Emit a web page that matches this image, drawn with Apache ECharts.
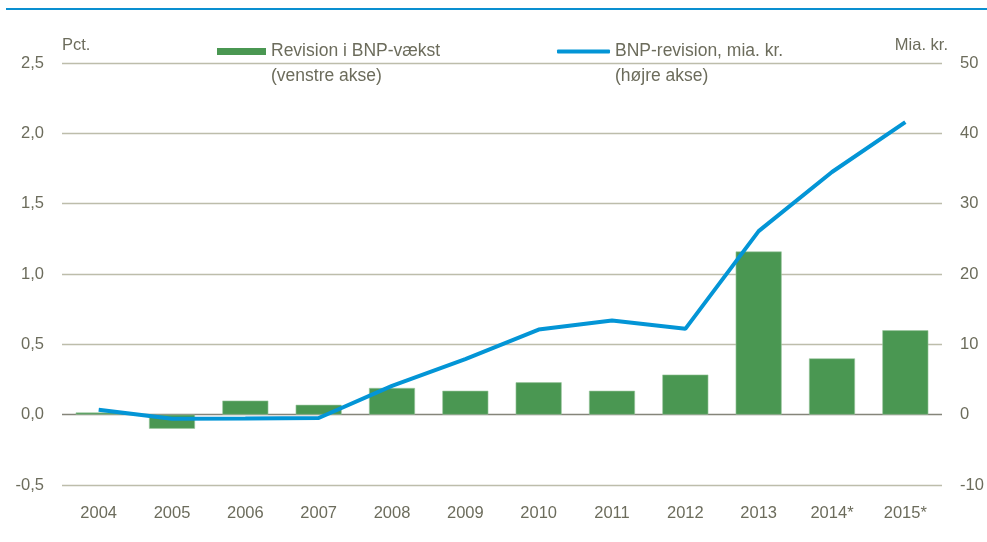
<!DOCTYPE html>
<html>
<head>
<meta charset="utf-8">
<script src="https://cdn.jsdelivr.net/npm/echarts@6/dist/echarts.min.js"></script>
<style>
html,body{margin:0;padding:0;background:#fff;}
#c{width:987px;height:542px;}
</style>
</head>
<body>
<div id="c"></div>
<script>
var categories = ['2004','2005','2006','2007','2008','2009','2010','2011','2012','2013','2014*','2015*'];
var growthRevision = [0.015,-0.10,0.10,0.07,0.19,0.17,0.23,0.17,0.285,1.16,0.40,0.60];
var bnpRevision = [0.7,-0.57,-0.55,-0.47,4.1,7.9,12.1,13.4,12.2,26.1,34.5,41.6];
var leftTicks = {min:-0.5, max:2.5, interval:0.5};
var rightTicks = {min:-10, max:50, interval:10};
var barName = 'Revision i BNP-vækst\n(venstre akse)';
var lineName = 'BNP-revision, mia. kr.\n(højre akse)';

var FONT = '"Liberation Sans Narrow", "Arial Narrow", "Liberation Sans", Arial, sans-serif';
var TXT = '#6c6c5c';
var chart = echarts.init(document.getElementById('c'));
var legendText = {fontFamily: FONT, fontSize: 17.5, color: TXT, lineHeight: 25};
function legendFmt(n){ return ' \n' + n; }
chart.setOption({
  animation: false,
  textStyle: {fontFamily: FONT},
  grid: {left: 62, right: 45, top: 63, bottom: 57},
  legend: [
    {data: [{name: barName, icon: 'rect', itemStyle: {borderWidth: 0}}], left: 217, top: 14, padding: 0, itemWidth: 49, itemHeight: 7,
     itemGap: 0, textStyle: legendText, formatter: legendFmt, selectedMode: false},
    {data: [{name: lineName, icon: 'roundRect'}], left: 557, top: 14, padding: 0, itemWidth: 53, itemHeight: 4,
     itemGap: 0, textStyle: legendText, formatter: legendFmt, selectedMode: false}
  ],
  graphic: [
    {type: 'rect', shape: {x: 6, y: 8, width: 981, height: 2}, style: {fill: '#0a8fd0'}, silent: true}
  ],
  xAxis: {
    type: 'category', data: categories,
    axisLine: {show: false}, axisTick: {show: false},
    axisLabel: {color: TXT, fontSize: 16.5, fontFamily: FONT, margin: 20}
  },
  yAxis: [
    {type: 'value', min: leftTicks.min, max: leftTicks.max, interval: leftTicks.interval,
     name: 'Pct.', nameGap: 9, nameTextStyle: {color: TXT, fontSize: 16.5, fontFamily: FONT, align: 'left'},
     axisLine: {show: false}, axisTick: {show: false},
     axisLabel: {color: TXT, fontSize: 16.5, fontFamily: FONT, margin: 18,
       formatter: function(v){ return v.toFixed(1).replace('.', ','); }},
     splitLine: {show: true, lineStyle: {color: ['#bdbdab','#85857a','#bdbdab','#bdbdab','#bdbdab','#bdbdab','#bdbdab'], width: 1.3}}
    },
    {type: 'value', min: rightTicks.min, max: rightTicks.max, interval: rightTicks.interval,
     name: 'Mia. kr.', nameGap: 9, nameTextStyle: {color: TXT, fontSize: 16.5, fontFamily: FONT, align: 'right', padding: [0,-6,0,0]},
     axisLine: {show: false}, axisTick: {show: false}, splitLine: {show: false},
     axisLabel: {color: TXT, fontSize: 16.5, fontFamily: FONT, margin: 18}
    }
  ],
  series: [
    {name: barName, type: 'bar', yAxisIndex: 0, data: growthRevision, barWidth: 46,
     itemStyle: {color: '#4a9752', borderColor: '#9cc89f', borderWidth: 0.6}},
    {name: lineName, type: 'line', yAxisIndex: 1, data: bnpRevision, symbol: 'none',
     lineStyle: {color: '#0395d6', width: 4}, itemStyle: {color: '#0395d6'}, z: 5}
  ]
});
</script>
</body>
</html>
